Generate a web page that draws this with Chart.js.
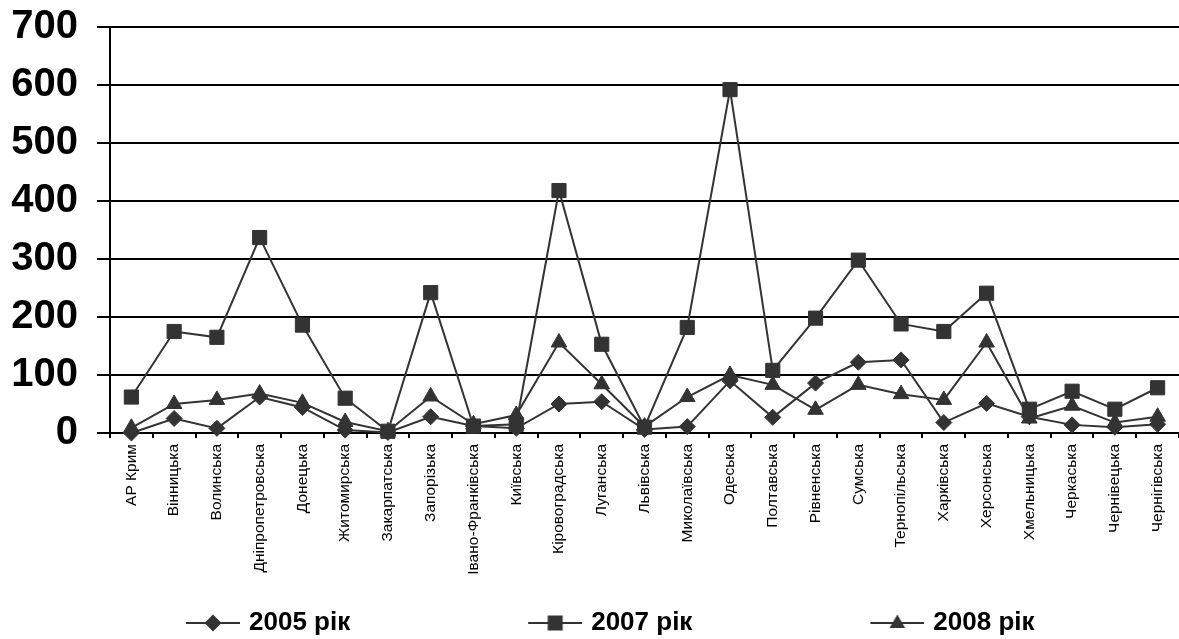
<!DOCTYPE html>
<html>
<head>
<meta charset="utf-8">
<script src="https://cdn.jsdelivr.net/npm/chart.js@4.4.0/dist/chart.umd.min.js"></script>
<style>
html,body{margin:0;padding:0;background:#fff;}
#c{display:block;}
</style>
</head>
<body>
<canvas id="c" width="1179" height="639"></canvas>
<script>
const categories = ["АР Крим","Вінницька","Волинська","Дніпропетровська","Донецька","Житомирська","Закарпатська","Запорізька","Івано-Франківська","Київська","Кіровоградська","Луганська","Львівська","Миколаївська","Одеська","Полтавська","Рівненська","Сумська","Тернопільська","Харківська","Херсонська","Хмельницька","Черкаська","Чернівецька","Чернігівська"];
const seriesNames = ["2005 рік","2007 рік","2008 рік"];
const values2005 = [0,25,8,62,44,5,1,28,12,8,50,54,6,11,90,27,86,122,126,18,51,28,14,10,15];
const values2007 = [62,175,165,337,186,60,3,242,12,15,418,153,10,182,592,108,198,298,188,175,241,41,72,41,78];
const values2008 = [9,50,57,68,52,19,3,63,15,31,156,84,11,62,100,83,40,83,67,57,156,25,47,18,28];
const yTicks = [0,100,200,300,400,500,600,700];

const INK = '#333333';
const styles = ['rectRot','rect','triangle'];
const radii = [8,10,9];

const BOXW = 218;
function legendImage(kind){
  const W = BOXW + 8, H = 26;
  const cv = document.createElement('canvas');
  cv.width = W; cv.height = H;
  const ctx = cv.getContext('2d');
  const x0 = 172, x1 = 226, cy = H/2;
  ctx.strokeStyle = INK; ctx.lineWidth = 2;
  ctx.beginPath(); ctx.moveTo(x0, cy); ctx.lineTo(x1, cy); ctx.stroke();
  const cx = (x0 + x1)/2;
  ctx.fillStyle = INK;
  ctx.beginPath();
  if (kind === 0){
    const r = 8.5;
    ctx.moveTo(cx - r, cy); ctx.lineTo(cx, cy - r); ctx.lineTo(cx + r, cy); ctx.lineTo(cx, cy + r);
  } else if (kind === 1){
    const s = 7.5;
    ctx.rect(cx - s, cy - s, 2*s, 2*s);
  } else {
    const r = 9;
    ctx.moveTo(cx, cy - r*0.95); ctx.lineTo(cx + r*0.87, cy + r*0.55); ctx.lineTo(cx - r*0.87, cy + r*0.55);
  }
  ctx.closePath(); ctx.fill();
  return cv;
}
const legendImgs = [legendImage(0), legendImage(1), legendImage(2)];

function ds(label, data, i){
  return {
    label: label,
    data: data,
    borderColor: INK,
    borderWidth: 2,
    backgroundColor: INK,
    pointStyle: styles[i],
    pointRadius: radii[i],
    pointHoverRadius: radii[i],
    pointBackgroundColor: INK,
    pointBorderColor: INK,
    pointBorderWidth: 1,
    tension: 0,
    fill: false,
    clip: false
  };
}

Chart.defaults.color = '#000';
Chart.defaults.font.family = '"Liberation Sans", Arial, sans-serif';

new Chart(document.getElementById('c'), {
  type: 'line',
  data: {
    labels: categories,
    datasets: [ds(seriesNames[0], values2005, 0), ds(seriesNames[1], values2007, 1), ds(seriesNames[2], values2008, 2)]
  },
  options: {
    responsive: false,
    animation: false,
    layout: { autoPadding: false, padding: { left: 8, right: 0, top: 27, bottom: -7 } },
    plugins: {
      tooltip: { enabled: false },
      legend: {
        position: 'bottom',
        align: 'start',
        labels: {
          usePointStyle: true,
          pointStyleWidth: BOXW,
          padding: 10,
          color: '#000',
          font: { size: 26, weight: 'bold' },
          generateLabels: (chart) => chart.data.datasets.map((d, i) => ({
            text: d.label,
            pointStyle: legendImgs[i],
            fillStyle: INK,
            strokeStyle: INK,
            lineWidth: 0,
            hidden: false,
            datasetIndex: i,
            fontColor: '#000'
          }))
        }
      }
    },
    scales: {
      x: {
        type: 'category',
        offset: true,
        afterFit: (s) => { s.height = 167; s.paddingLeft = 0; s.paddingRight = 0; },
        grid: { display: true, offset: true, drawOnChartArea: false, drawTicks: true, tickLength: 5, color: '#000', lineWidth: 2 },
        border: { display: true, color: '#000', width: 2 },
        ticks: { autoSkip: false, maxRotation: 90, minRotation: 90, padding: 6, color: '#000', font: { size: 15.5 } }
      },
      y: {
        min: 0, max: 700,
        afterFit: (s) => { s.width = 102; s.paddingTop = 0; s.paddingBottom = 0; },
        afterBuildTicks: (s) => { s.ticks = yTicks.map(v => ({ value: v })); },
        grid: { color: '#000', lineWidth: 2, drawTicks: true, tickLength: 13 },
        border: { display: true, color: '#000', width: 2 },
        ticks: { padding: 19, color: '#000', font: { size: 40, weight: 'bold', lineHeight: 1 } }
      }
    }
  }
});
</script>
</body>
</html>
